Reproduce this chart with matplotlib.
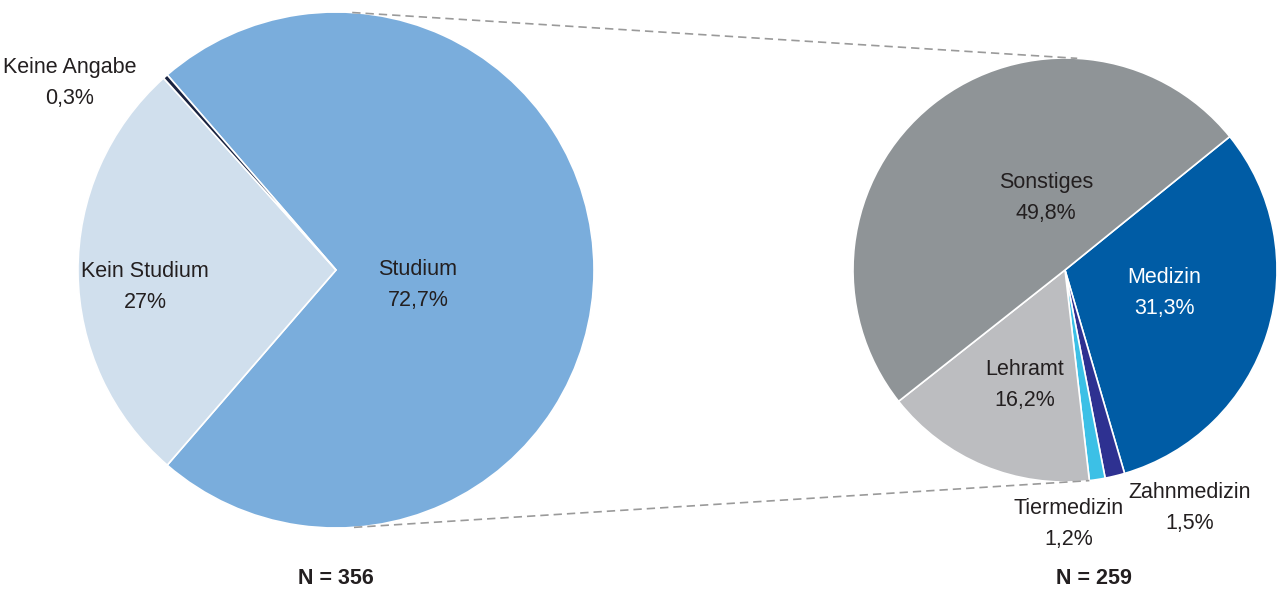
import numpy as np
import matplotlib.pyplot as plt

plt.rcParams['font.family'] = ['Liberation Sans', 'DejaVu Sans']

# main pie: degree status
main_labels = ["Studium", "Kein Studium", "Keine Angabe"]
main_values = [72.7, 27.0, 0.3]
main_n = 356

# breakdown of "Studium"
sub_labels = ["Medizin", "Zahnmedizin", "Tiermedizin", "Lehramt", "Sonstiges"]
sub_values = [31.3, 1.5, 1.2, 16.2, 49.8]
sub_n = 259


def fmt(v):
    s = "{:.1f}".format(v).replace(".", ",")
    if s.endswith(",0"):
        s = s[:-2]
    return s + "%"


W, H = 1277, 591
fig = plt.figure(figsize=(W / 100, H / 100), dpi=100)
ax = fig.add_axes([0, 0, 1, 1])

txt = "#231f20"
c1, r1 = (336, 321), 258
c2, r2 = (1065, 321), 212

# Studium centred on the right, the rest on the left
start1 = main_values[0] / 100 * 180
ax.pie(main_values, center=c1, radius=r1, startangle=start1, counterclock=False,
       colors=["#7aaddc", "#d0dfed", "#1a2340"],
       wedgeprops=dict(edgecolor="white", linewidth=1.2), frame=True)

ax.pie(sub_values, center=c2, radius=r2, startangle=39, counterclock=False,
       colors=["#005ca5", "#2e3191", "#3cc0e6", "#bcbdc0", "#8f9497"],
       wedgeprops=dict(edgecolor="white", linewidth=1.2), frame=True)
ax.set_xlim(0, W)
ax.set_ylim(0, H)
ax.set_aspect("equal")
ax.axis("off")


def on_circle(c, r, deg):
    a = np.radians(deg)
    return c[0] + r * np.cos(a), c[1] + r * np.sin(a)


# connector lines between the two pies
lehramt_edge = 39 - sum(sub_values[:3]) / 100 * 360
for a1, a2 in [(86.4, 86.7), (-86.0, lehramt_edge)]:
    p1 = on_circle(c1, r1, a1)
    p2 = on_circle(c2, r2, a2)
    ax.plot([p1[0], p2[0]], [p1[1], p2[1]], ls=(0, (5, 3)), color="#9a9a9a", lw=1.2)

fs = 15.5
ls = 1.6
main_pos = [(418, 285), (145, 287), (70, 83)]
for lab, v, (x, y) in zip(main_labels, main_values, main_pos):
    ax.text(x, H - y, lab + "\n" + fmt(v), ha="center", va="center",
            fontsize=fs, color=txt, linespacing=ls)

sub_pos = [(1164, 293), (1190, 508), (1069, 524), (1025, 385), (1046, 198)]
for lab, v, (x, y) in zip(sub_labels, sub_values, sub_pos):
    ax.text(x, H - y, lab + "\n" + fmt(v), ha="center", va="center",
            fontsize=fs, linespacing=ls,
            color="white" if lab == "Medizin" else txt)

ax.text(336, H - 578, "N = {}".format(main_n), ha="center", va="center",
        fontsize=fs, fontweight="bold", color=txt)
ax.text(1094, H - 578, "N = {}".format(sub_n), ha="center", va="center",
        fontsize=fs, fontweight="bold", color=txt)

fig.savefig("out.png", dpi=100)
